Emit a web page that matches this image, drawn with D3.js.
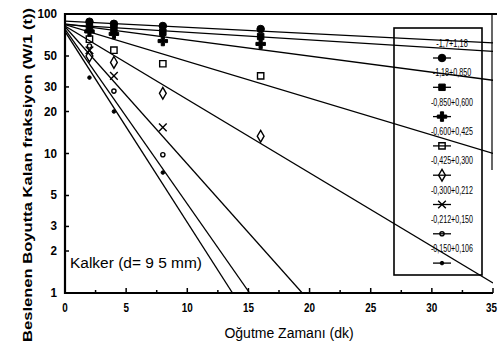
<!DOCTYPE html>
<html>
<head>
<meta charset="utf-8">
<script src="https://cdn.jsdelivr.net/npm/d3@7"></script>
<style>
  body { margin: 0; background: #fff; }
  svg { display: block; }
</style>
</head>
<body>
<svg id="chart"></svg>
<script>
// size fractions (legend labels)
const sizeClasses = ["-1,7+1,18", "-1,18+0,850", "-0,850+0,600", "-0,600+0,425",
                     "-0,425+0,300", "-0,300+0,212", "-0,212+0,150", "-0,150+0,106"];
// grinding times of measured points (dk)
const times = [2, 4, 8, 16];
const measured = [
  [88, 85, 82, 78],
  [80, 78, 74, 69],
  [75, 72, 64, 61],
  [66, 55, 44, 36],
  [50, 45, 27, 13.3],
  [55, 36, 15.4, null],
  [59, 28, 9.8, null],
  [35, 20, 7.3, null]
];
// fitted lines: value at t=0 and end point
const fitStart = [89, 84, 85, 84, 82, 81, 78, 75];
const fitEndTime = [35, 35, 35, 35, 35, 19.4, 15.1, 13.7];
const fitEndValue = [62, 54, 33.5, 10, 1.18, 1, 1, 1];

const xTicks = [0, 5, 10, 15, 20, 25, 30, 35];
const yTicks = [1, 2, 3, 5, 10, 20, 30, 50, 100];

const width = 498, height = 346;
const svg = d3.select("#chart").attr("width", width).attr("height", height);

const x = d3.scaleLinear().domain([0, 35]).range([65, 493]);
const y = d3.scaleLog().domain([1, 100]).range([293, 14]);

const sans = "'Liberation Sans', Arial, sans-serif";

svg.append("clipPath").attr("id", "clip")
  .append("rect").attr("x", 65).attr("y", 14).attr("width", 428).attr("height", 279);

// fit lines
const plot = svg.append("g").attr("clip-path", "url(#clip)");
plot.selectAll("line.fit")
  .data(fitStart)
  .join("line")
  .attr("class", "fit")
  .attr("x1", x(0))
  .attr("y1", d => y(d))
  .attr("x2", (d, i) => x(fitEndTime[i]))
  .attr("y2", (d, i) => y(fitEndValue[i]))
  .attr("stroke", "#000")
  .attr("stroke-width", 1.3);

// marker styles per series
const symbols = [
  { type: d3.symbolCircle, size: 45, fill: true },
  { type: d3.symbolSquare, size: 42, fill: true },
  { type: d3.symbolCross, size: 50, fill: true },
  { type: d3.symbolSquare, size: 40, fill: false },
  { type: d3.symbolDiamond, size: 40, fill: false },
  { type: d3.symbolTimes, size: 40, fill: false },
  { type: d3.symbolCircle, size: 14, fill: false },
  { type: d3.symbolCircle, size: 10, fill: true }
];

function drawSymbol(g, s, cx, cy) {
  g.append("path")
    .attr("d", d3.symbol().type(s.type).size(s.size)())
    .attr("transform", `translate(${cx},${cy})`)
    .attr("fill", s.fill ? "#000" : "none")
    .attr("stroke", "#000")
    .attr("stroke-width", s.fill ? 1 : 1.4);
}

measured.forEach((row, i) => {
  row.forEach((v, j) => {
    if (v == null) return;
    drawSymbol(plot, symbols[i], x(times[j]), y(v));
  });
});

// frame
const frame = svg.append("g").attr("stroke", "#000").attr("fill", "none");
frame.append("line").attr("x1", 65).attr("x2", 497).attr("y1", 14).attr("y2", 14).attr("stroke-width", 2);
frame.append("line").attr("x1", 492).attr("x2", 492).attr("y1", 14).attr("y2", 170).attr("stroke-width", 1.2);
frame.append("line").attr("x1", 65).attr("x2", 65).attr("y1", 13).attr("y2", 294).attr("stroke-width", 2.2);
frame.append("line").attr("x1", 64).attr("x2", 493).attr("y1", 293).attr("y2", 293).attr("stroke-width", 2.2);

// x ticks
svg.append("g").selectAll("line")
  .data(d3.range(0, 35.1, 2.5))
  .join("line")
  .attr("x1", d => x(d)).attr("x2", d => x(d))
  .attr("y1", 293).attr("y2", d => d % 5 === 0 ? 288 : 290)
  .attr("stroke", "#000").attr("stroke-width", 1.5);

svg.append("g").selectAll("text")
  .data(xTicks)
  .join("text")
  .attr("x", d => d === 35 ? 497 : x(d))
  .attr("y", 312)
  .attr("text-anchor", d => d === 35 ? "end" : "middle")
  .attr("font-family", sans)
  .attr("font-weight", "bold")
  .attr("font-size", 12)
  .attr("textLength", d => String(d).length * 5.5)
  .attr("lengthAdjust", "spacingAndGlyphs")
  .text(d => d);

// y ticks
svg.append("g").selectAll("line")
  .data(yTicks)
  .join("line")
  .attr("x1", 65).attr("x2", 69)
  .attr("y1", d => y(d)).attr("y2", d => y(d))
  .attr("stroke", "#000").attr("stroke-width", 1.5);

svg.append("g").selectAll("text")
  .data(yTicks)
  .join("text")
  .attr("x", 57)
  .attr("y", d => y(d) + 4)
  .attr("text-anchor", "end")
  .attr("font-family", sans)
  .attr("font-weight", "bold")
  .attr("font-size", 12)
  .attr("textLength", d => String(d).length * 6.5)
  .attr("lengthAdjust", "spacingAndGlyphs")
  .text(d => d);

// axis titles
svg.append("text")
  .attr("transform", "translate(32,175) rotate(-90)")
  .attr("text-anchor", "middle")
  .attr("font-family", sans)
  .attr("font-weight", "bold")
  .attr("font-size", 13.5)
  .attr("textLength", 334)
  .attr("lengthAdjust", "spacingAndGlyphs")
  .text("Beslenen Boyutta Kalan fraksiyon (W/1 (t))");

svg.append("text")
  .attr("x", 289).attr("y", 338)
  .attr("text-anchor", "middle")
  .attr("font-family", sans)
  .attr("font-size", 14)
  .text("Oğutme Zamanı (dk)");

svg.append("text")
  .attr("x", 70).attr("y", 268)
  .attr("font-family", sans)
  .attr("font-size", 14)
  .attr("textLength", 132)
  .attr("lengthAdjust", "spacingAndGlyphs")
  .text("Kalker (d= 9 5 mm)");

// legend
const legend = svg.append("g");
legend.append("rect")
  .attr("x", 394).attr("y", 28).attr("width", 88).attr("height", 247)
  .attr("fill", "none").attr("stroke", "#000").attr("stroke-width", 1.6);

sizeClasses.forEach((label, i) => {
  const ty = 43 + i * 29.3;
  legend.append("text")
    .attr("x", 452).attr("y", ty + 4)
    .attr("text-anchor", "middle")
    .attr("font-family", sans)
    .attr("font-size", 11.5)
    .attr("textLength", label.length * 3.5)
    .attr("lengthAdjust", "spacingAndGlyphs")
    .text(label);
  const my = ty + 15;
  legend.append("line")
    .attr("x1", 433).attr("x2", 451).attr("y1", my).attr("y2", my)
    .attr("stroke", "#000").attr("stroke-width", 1.3);
  drawSymbol(legend, symbols[i], 442, my);
});
</script>
</body>
</html>
